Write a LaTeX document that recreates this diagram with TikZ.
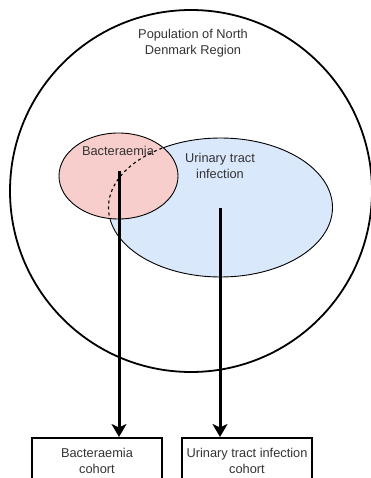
\documentclass[tikz,border=0pt]{standalone}
\usepackage{fontspec}
\setmainfont{Liberation Sans}
\usetikzlibrary{arrows.meta,positioning,calc,shapes.geometric}
\definecolor{softpink}{RGB}{248,206,204}
\definecolor{softblue}{RGB}{218,232,252}
\definecolor{textgray}{RGB}{51,51,51}

\begin{document}
\begin{tikzpicture}[x=1pt,y=-1pt, every node/.style={font=\fontsize{12.8}{16}\selectfont,text=textgray,align=center,inner sep=0pt}, region/.style={draw,ellipse,line width=0.9pt}, cohort/.style={draw,line width=1.8pt,minimum width=130pt,minimum height=46pt,anchor=north}, flow/.style={-{Stealth[length=13pt,width=15pt,inset=3.5pt]},line width=3pt}]
\useasboundingbox (0,0) rectangle (370,478);
\node[draw,circle,line width=1.8pt,minimum size=362pt] (population) at (191,191) {};
\node[region,fill=softblue,minimum width=224pt,minimum height=139pt] (uti) at (220.5,207.5) {};
\node[region,fill=softpink,minimum width=119pt,minimum height=86pt] (bact) at (118.5,176) {};
\begin{scope}
\clip (bact.center) ellipse [x radius=59.5pt, y radius=43pt];
\draw[dash pattern=on 3pt off 3pt,line width=1.1pt] (uti.center) ellipse [x radius=112pt, y radius=69.5pt];
\end{scope}
\node (poptext) at (193,43) {Population of North\\Denmark Region};
\node (bacttext) at (118,151) {Bacteraemia};
\node (utitext) at (220,166) {Urinary tract\\infection};
\coordinate (bstart) at (119,171); \coordinate (ustart) at (220,208);
\node[cohort] (bcohort) at (97,437) {Bacteraemia\\cohort};
\node[cohort] (ucohort) at (247,437) {Urinary tract infection\\cohort};
\draw[flow] (bstart)--(bstart |- bcohort.north); \draw[flow] (ustart)--(ustart |- ucohort.north);
\end{tikzpicture}
\end{document}
